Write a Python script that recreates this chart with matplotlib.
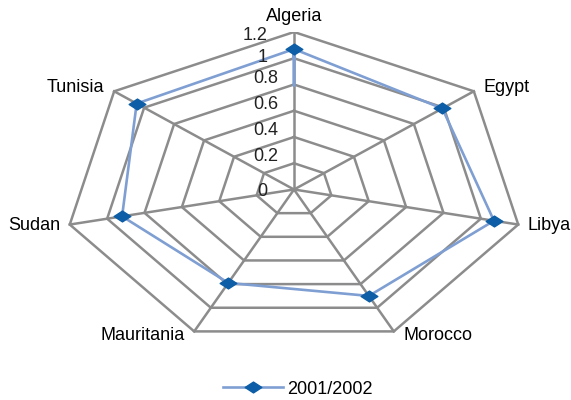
import numpy as np
import matplotlib
matplotlib.use("Agg")
from matplotlib import pyplot as plt
from matplotlib.path import Path
from matplotlib.lines import Line2D

plt.rcParams["font.family"] = ["Liberation Sans", "DejaVu Sans"]

categories = ["Algeria", "Egypt", "Libya", "Morocco", "Mauritania", "Sudan", "Tunisia"]
values = [1.07, 0.99, 1.07, 0.90, 0.79, 0.92, 1.05]
series_name = "2001/2002"
ticks = [0, 0.2, 0.4, 0.6, 0.8, 1.0, 1.2]
tick_labels = ["0", "0.2", "0.4", "0.6", "0.8", "1", "1.2"]

rmax = 1.2
fs = 13
n = len(categories)
theta = np.pi / 2 - 2 * np.pi * np.arange(n) / n
cx, sy = np.cos(theta), np.sin(theta)

fig = plt.figure(figsize=(5.71, 4.0), dpi=100)
ax = fig.add_axes([64 / 571, 53 / 400, 460 / 571, 315 / 400])
ax.set_xlim(-rmax, rmax)
ax.set_ylim(-rmax, rmax)
ax.axis("off")

grid_col = "#8c8c8c"
# rings
for t in ticks[1:]:
    xs = np.append(t * cx, t * cx[0])
    ys = np.append(t * sy, t * sy[0])
    ax.plot(xs, ys, color=grid_col, lw=1.8, zorder=1, solid_joinstyle="miter")
# spokes
for i in range(n):
    ax.plot([0, rmax * cx[i]], [0, rmax * sy[i]], color=grid_col, lw=1.8, zorder=1)

# data
diamond = Path([(-1, 0), (0, 0.65), (1, 0), (0, -0.65), (-1, 0)],
               [Path.MOVETO, Path.LINETO, Path.LINETO, Path.LINETO, Path.CLOSEPOLY])
v = np.array(values)
xs = np.append(v * cx, v * cx[0])
ys = np.append(v * sy, v * sy[0])
ax.plot(xs, ys, color="#7f9fd3", lw=1.9, zorder=2)
ax.plot(v * cx, v * sy, ls="none", marker=diamond, ms=12,
        color="#0d5ea6", mec="#0d5ea6", zorder=3, label=series_name)

# tick labels (Excel-style staggered placement)
label_y = [-0.013, 0.252, 0.446, 0.650, 0.849, 1.002, 1.177]
label_x = [-0.14, -0.08, -0.08, -0.08, -0.08, -0.14, -0.14]
for lx, ly, lab in zip(label_x, label_y, tick_labels):
    ax.text(lx, ly, lab, ha="right", va="center", fontsize=fs, color="#222222")

# category labels
off = 0.05
for i, cat in enumerate(categories):
    x, y = rmax * cx[i], rmax * sy[i]
    if i == 0:
        ax.text(x, y + 0.115, cat, ha="center", va="center", fontsize=fs)
    elif i in (1, 6):
        ax.text(x + (off if i == 1 else -off), y + 0.03, cat,
                ha="left" if i == 1 else "right", va="center", fontsize=fs)
    elif i in (2, 5):
        ax.text(x + (off if i == 2 else -off), y - 0.01, cat,
                ha="left" if i == 2 else "right", va="center", fontsize=fs)
    else:
        ax.text(x + (off if i == 3 else -off), y - 0.03, cat,
                ha="left" if i == 3 else "right", va="center", fontsize=fs)

# legend
handle = Line2D([], [], color="#7f9fd3", lw=1.9, marker=diamond, ms=12,
                mfc="#0d5ea6", mec="#0d5ea6")
fig.legend([handle], [series_name], loc="center", bbox_to_anchor=(298 / 571, 1 - 389 / 400),
           frameon=False, fontsize=fs, handlelength=3.3, handletextpad=0.28)

fig.savefig("out.png", dpi=100)
